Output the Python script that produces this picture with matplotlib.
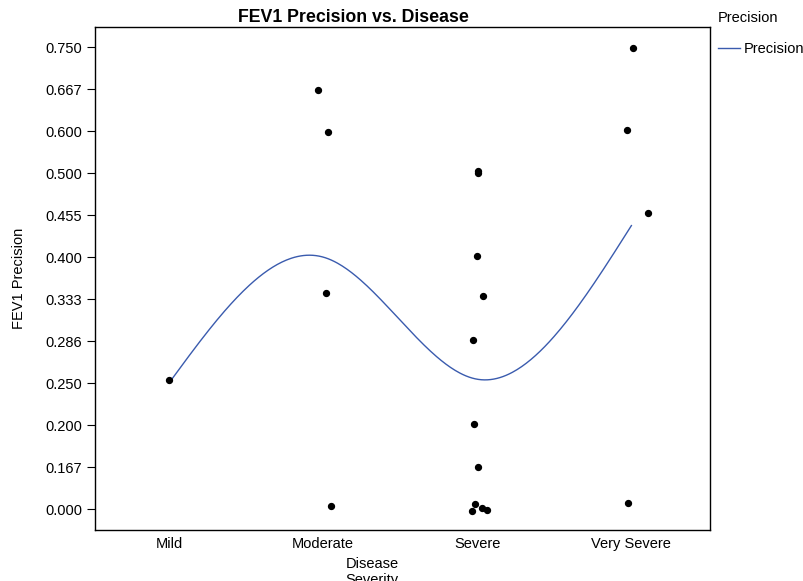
import numpy as np
import matplotlib
matplotlib.use('Agg')
import matplotlib.pyplot as plt

plt.rcParams['font.family'] = ['Liberation Sans', 'DejaVu Sans']

# categories on both axes
severity = ['Mild', 'Moderate', 'Severe', 'Very Severe']
precision_levels = ['0.000', '0.167', '0.200', '0.250', '0.286', '0.333',
                    '0.400', '0.455', '0.500', '0.600', '0.667', '0.750']

# one row per patient: disease group and FEV1 precision value
pt_group = ['Mild',
            'Moderate', 'Moderate', 'Moderate', 'Moderate',
            'Severe', 'Severe', 'Severe', 'Severe', 'Severe', 'Severe',
            'Severe', 'Severe', 'Severe', 'Severe', 'Severe',
            'Very Severe', 'Very Severe', 'Very Severe', 'Very Severe']
pt_value = ['0.250',
            '0.667', '0.600', '0.333', '0.000',
            '0.500', '0.500', '0.400', '0.333', '0.286', '0.200',
            '0.167', '0.000', '0.000', '0.000', '0.000',
            '0.750', '0.600', '0.455', '0.000']
# jitter applied to the dots
jit_x = [0.0,
         -0.03, 0.03, 0.02, 0.05,
         0.005, 0.005, 0.0, 0.04, -0.03, -0.02,
         0.005, -0.015, -0.035, 0.03, 0.06,
         0.01, -0.03, 0.11, -0.02]
jit_y = [0.07,
         -0.02, -0.02, 0.14, 0.07,
         0.05, 0.0, 0.02, 0.07, 0.02, 0.02,
         0.0, 0.12, -0.05, 0.02, -0.02,
         -0.02, 0.02, 0.05, 0.14]

xs = np.array([severity.index(g) for g in pt_group]) + np.array(jit_x)
yrank = np.array([precision_levels.index(v) for v in pt_value], dtype=float)
ys = yrank + np.array(jit_y)

# group means (in rank units) joined by a natural cubic spline
gx = np.arange(len(severity), dtype=float)
gy = np.array([yrank[[g == s for g in pt_group]].mean() for s in severity])


def natural_spline(x, y, xn):
    n = len(x)
    h = np.diff(x)
    A = np.zeros((n, n))
    b = np.zeros(n)
    A[0, 0] = A[-1, -1] = 1
    for i in range(1, n - 1):
        A[i, i - 1] = h[i - 1]
        A[i, i] = 2 * (h[i - 1] + h[i])
        A[i, i + 1] = h[i]
        b[i] = 6 * ((y[i + 1] - y[i]) / h[i] - (y[i] - y[i - 1]) / h[i - 1])
    M = np.linalg.solve(A, b)
    out = np.empty_like(xn)
    for k, t in enumerate(xn):
        i = min(np.searchsorted(x, t, side='right') - 1, n - 2)
        dx = t - x[i]
        hi = h[i]
        a = (M[i + 1] - M[i]) / (6 * hi)
        bb = M[i] / 2
        c = (y[i + 1] - y[i]) / hi - hi * (2 * M[i] + M[i + 1]) / 6
        out[k] = y[i] + c * dx + bb * dx ** 2 + a * dx ** 3
    return out


xx = np.linspace(gx[0], gx[-1], 300)
yy = natural_spline(gx, gy, xx)

fs = 10.5
fig = plt.figure(figsize=(8.04, 5.81), dpi=100)
ax = fig.add_axes([95 / 804, 51 / 581, 615 / 804, 503 / 581])

ax.plot(xx, yy, color='#3a5bae', lw=1.0, label='Precision')
ax.scatter(xs, ys, s=18, color='black', zorder=3)

ax.set_xlim(-0.48, 3.51)
ax.set_ylim(-0.5, 11.48)
ax.set_xticks(range(len(severity)))
ax.set_xticklabels(severity, fontsize=fs)
ax.set_yticks(range(len(precision_levels)))
ax.set_yticklabels(precision_levels, fontsize=fs)
ax.tick_params(axis='x', length=0, pad=5)
ax.tick_params(axis='y', length=6, width=0.8, pad=3)
for sp in ax.spines.values():
    sp.set_linewidth(1.0)

ax.set_ylabel('FEV1 Precision', fontsize=fs, labelpad=14)
fig.text(372 / 804, 1 - 557 / 581, 'Disease\nSeverity', ha='center', va='top',
         fontsize=fs, linespacing=1.15)
fig.text(353 / 804, 1 - 17 / 581, 'FEV1 Precision vs. Disease', ha='center',
         va='center', fontsize=12.8, fontweight='bold')

# legend: title placed separately so the entry sits lower
fig.text(718 / 804, 1 - 18 / 581, 'Precision', ha='left', va='center', fontsize=fs)
ax.legend(loc='center left', bbox_to_anchor=(718 / 804, 1 - 49 / 581),
          bbox_transform=fig.transFigure, frameon=False, fontsize=fs,
          handlelength=1.5, handletextpad=0.3, borderaxespad=0.0,
          borderpad=0.0)

fig.savefig('out.png', dpi=100)
